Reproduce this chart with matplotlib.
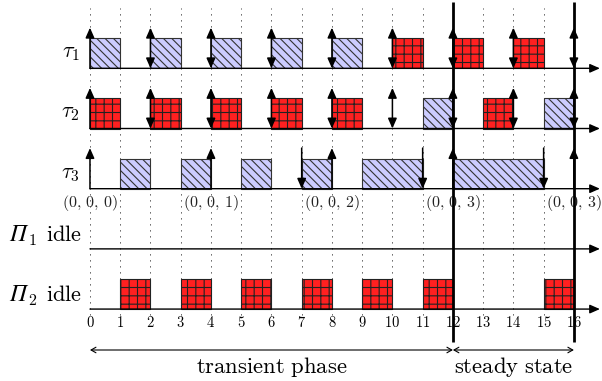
# Schedule diagram: transient phase and steady state of three tasks on two processors

import matplotlib
matplotlib.use('Agg')
import matplotlib.pyplot as plt

plt.rcParams['mathtext.fontset'] = 'cm'
plt.rcParams['hatch.linewidth'] = 0.8

# task rows
task_names = [r'$\tau_1$', r'$\tau_2$', r'$\tau_3$']
task_base = [8, 6, 4]
# processor idle rows
proc_sub = ['1', '2']
proc_base = [2, 0]

# jobs: (start, length)
tau1_blue = [(0, 1), (2, 1), (4, 1), (6, 1), (8, 1)]
tau1_red = [(10, 1), (12, 1), (14, 1)]
tau2_red = [(0, 1), (2, 1), (4, 1), (6, 1), (8, 1), (13, 1)]
tau2_blue = [(11, 1), (15, 1)]
tau3_blue = [(1, 1), (3, 1), (5, 1), (7, 1), (9, 2), (12, 3)]
pi2_red = [(1, 1), (3, 1), (5, 1), (7, 1), (9, 1), (11, 1), (15, 1)]

# release / deadline arrows
tau1_up = [0]
tau1_both = [2, 4, 6, 8, 10, 12, 14, 16]
tau2_up = [0]
tau2_both = [2, 4, 6, 8, 10, 12, 14, 16]
tau3_up = [0, 4, 8, 12, 16]
tau3_down = [7, 11, 15]

state_x = [0, 4, 8, 12, 16]
state_lbl = ['(0,\\,0,\\,0)', '(0,\\,0,\\,1)', '(0,\\,0,\\,2)', '(0,\\,0,\\,3)', '(0,\\,0,\\,3)']
ticks = list(range(17))
phases = [(0, 12, 'transient phase'), (12, 16, 'steady state')]
cuts = [12, 16]

BLUE = '#ccccff'
RED = '#ff2020'

fig = plt.figure(figsize=(6.02, 3.81), dpi=100)
ax = fig.add_axes([0, 0, 1, 1])
ax.set_xlim(-2.975, 16.93)
ax.set_ylim(-2.39, 10.27)
ax.axis('off')

# dotted grid
ax.vlines(ticks, -0.2, 10.0, colors='#222222', lw=0.6,
          linestyles=[(0, (1.5, 5.7))], zorder=0)


def boxes(jobs, base, kind):
    xs = [j[0] for j in jobs]
    ws = [j[1] for j in jobs]
    if kind == 'blue':
        ax.bar(xs, 1, width=ws, bottom=base, align='edge', color=BLUE,
               edgecolor='#333333', lw=0.8, hatch='\\\\\\\\', zorder=2)
    else:
        ax.bar(xs, 1, width=ws, bottom=base, align='edge', color=RED,
               edgecolor='#222222', lw=0.8, hatch='++', zorder=2)


boxes(tau1_blue, 8, 'blue')
boxes(tau1_red, 8, 'red')
boxes(tau2_red, 6, 'red')
boxes(tau2_blue, 6, 'blue')
boxes(tau3_blue, 4, 'blue')
boxes(pi2_red, 0, 'red')

H = 1.35
up_style = '-|>,head_length=0.5,head_width=0.22'
both_style = '<|-|>,head_length=0.5,head_width=0.22'


def arrow(x0, y0, x1, y1, style, lw=1.1, ms=12):
    ax.annotate('', xy=(x1, y1), xytext=(x0, y0),
                arrowprops=dict(arrowstyle=style, color='black', lw=lw,
                                shrinkA=0, shrinkB=0, mutation_scale=ms),
                zorder=4)


for x in tau1_up:
    arrow(x, 8, x, 8 + H, up_style)
for x in tau1_both:
    arrow(x, 8, x, 8 + H, both_style)
for x in tau2_up:
    arrow(x, 6, x, 6 + H, up_style)
for x in tau2_both:
    arrow(x, 6, x, 6 + H, both_style)
for x in tau3_up:
    arrow(x, 4, x, 4 + H, up_style)
for x in tau3_down:
    arrow(x, 4 + H, x, 4, up_style)

# time axes
for b in task_base + proc_base:
    arrow(0, b, 16.86, b, up_style, lw=1.0)

# row labels
for name, b in zip(task_names, task_base):
    ax.text(-0.33, b + 0.5, name, ha='right', va='center', fontsize=16)

# italic Pi, subscript, then "idle"
for sub, b in zip(proc_sub, proc_base):
    ax.text(-2.66, b + 0.27, '\u03a0', family='STIXGeneral', style='italic',
            fontsize=17, ha='left', va='baseline')
    ax.text(-2.04, b + 0.14, '$\\mathrm{' + sub + '}$', fontsize=11.5,
            ha='left', va='baseline')
    ax.text(-0.26, b + 0.27, r'$\mathrm{idle}$', fontsize=16,
            ha='right', va='baseline')

# state labels
for x, s in zip(state_x, state_lbl):
    ax.text(x, 3.52, '$' + s + '$', ha='center', va='center', fontsize=11.5,
            color='#222222')

# tick numbers
for t in ticks:
    ax.text(t, -0.45, '$%d$' % t, ha='center', va='center', fontsize=10.5)

# phase boundaries
ax.vlines(cuts, -1.1, 10.2, colors='black', lw=2, zorder=5)

for a, b, s in phases:
    arrow(a, -1.36, b, -1.36, '<->,head_length=0.35,head_width=0.2', lw=0.8, ms=10)
    ax.text((a + b) / 2, -1.93, r'$\mathrm{' + s.replace(' ', r'\ ') + '}$',
            ha='center', va='center', fontsize=16.3)

fig.savefig('out.png', dpi=100)
